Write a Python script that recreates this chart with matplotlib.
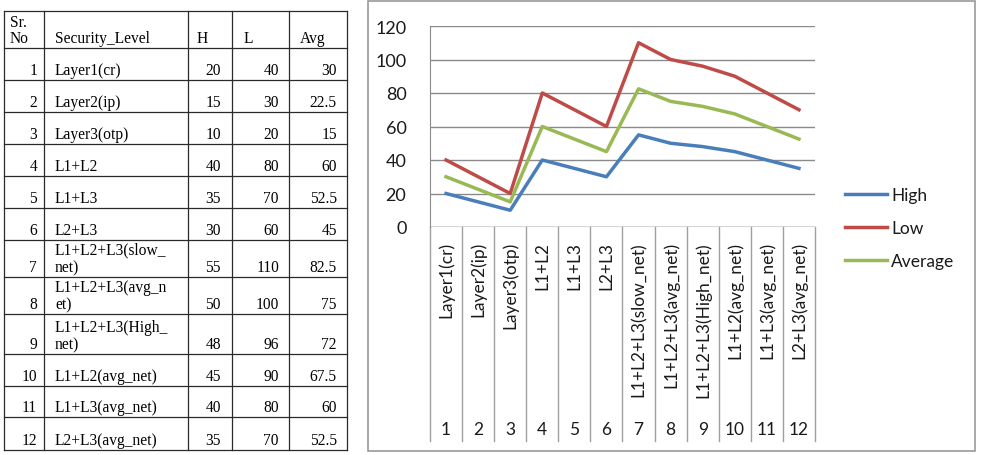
import matplotlib
matplotlib.use("Agg")
import matplotlib.pyplot as plt
import matplotlib.transforms as mtransforms

# ---------------- data ----------------
sr_no = [1, 2, 3, 4, 5, 6, 7, 8, 9, 10, 11, 12]
table_levels = ["Layer1(cr)", "Layer2(ip)", "Layer3(otp)", "L1+L2", "L1+L3", "L2+L3",
                "L1+L2+L3(slow_\nnet)", "L1+L2+L3(avg_n\net)", "L1+L2+L3(High_\nnet)",
                "L1+L2(avg_net)", "L1+L3(avg_net)", "L2+L3(avg_net)"]
categories = ["Layer1(cr)", "Layer2(ip)", "Layer3(otp)", "L1+L2", "L1+L3", "L2+L3",
              "L1+L2+L3(slow_net)", "L1+L2+L3(avg_net)", "L1+L2+L3(High_net)",
              "L1+L2(avg_net)", "L1+L3(avg_net)", "L2+L3(avg_net)"]
high = [20, 15, 10, 40, 35, 30, 55, 50, 48, 45, 40, 35]
low = [40, 30, 20, 80, 70, 60, 110, 100, 96, 90, 80, 70]
avg = [30, 22.5, 15, 60, 52.5, 45, 82.5, 75, 72, 67.5, 60, 52.5]
avg_text = ["30", "22.5", "15", "60", "52.5", "45", "82.5", "75", "72", "67.5", "60", "52.5"]
header = ["Sr.\nNo", "Security_Level", "H", "L", "Avg"]
series_names = ["High", "Low", "Average"]
y_ticks = [0, 20, 40, 60, 80, 100, 120]

W, H = 983, 456
fig = plt.figure(figsize=(W / 100, H / 100), dpi=100)

# background axes in pixel coordinates
bg = fig.add_axes([0, 0, 1, 1])
bg.set_xlim(0, W)
bg.set_ylim(H, 0)
bg.axis("off")

# ---------------- table ----------------
serif = "Liberation Serif"
tfs = 11.2
col_x = [4, 44, 188, 232, 289, 347]
row_y = [12, 49, 81, 113, 145, 177, 209, 241, 278, 315, 355, 387, 418, 451]
lc = "#2a2a2a"
for x in col_x:
    bg.plot([x, x], [row_y[0], row_y[-1]], color=lc, lw=0.9)
for y in row_y:
    bg.plot([col_x[0], col_x[-1]], [y, y], color=lc, lw=0.9)

hb = row_y[1] - 2
bg.text(10, hb, header[0], family=serif, fontsize=tfs, va="bottom", ha="left", linespacing=1.0)
bg.text(55, hb, header[1], family=serif, fontsize=tfs, va="bottom", ha="left")
bg.text(197, hb, header[2], family=serif, fontsize=tfs, va="bottom", ha="left")
bg.text(244, hb, header[3], family=serif, fontsize=tfs, va="bottom", ha="left")
bg.text(300, hb, header[4], family=serif, fontsize=tfs, va="bottom", ha="left")

for i in range(12):
    yb = row_y[i + 2] - 2
    bg.text(37, yb, str(sr_no[i]), family=serif, fontsize=tfs, va="bottom", ha="right")
    bg.text(55, yb, table_levels[i], family=serif, fontsize=tfs, va="bottom", ha="left",
            linespacing=1.1)
    bg.text(221, yb, str(high[i]), family=serif, fontsize=tfs, va="bottom", ha="right")
    bg.text(279, yb, str(low[i]), family=serif, fontsize=tfs, va="bottom", ha="right")
    bg.text(337, yb, avg_text[i], family=serif, fontsize=tfs, va="bottom", ha="right")

# ---------------- chart ----------------
bg.add_patch(plt.Rectangle((368, 2), 975 - 368, 452 - 2, fill=False, ec="#9a9a9a", lw=1.2))

px_l, px_r, px_t, px_b = 430, 815, 27, 228
ax = fig.add_axes([px_l / W, 1 - px_b / H, (px_r - px_l) / W, (px_b - px_t) / H])
x = list(range(1, 13))
colors = ["#4A7EBB", "#BE4B48", "#98B954"]
lines = []
for vals, c, n in zip([high, low, avg], colors, series_names):
    ln, = ax.plot(x, vals, color=c, lw=2.5, label=n, solid_joinstyle="round")
    lines.append(ln)
ax.set_xlim(0.5, 12.5)
ax.set_ylim(0, 120)
ax.set_yticks(y_ticks)
ax.set_xticks([])
for s in ["top", "right", "bottom"]:
    ax.spines[s].set_visible(False)
ax.spines["left"].set_color("#8a8a8a")
ax.yaxis.grid(True, color="#8a8a8a", lw=1.0)
ax.set_axisbelow(True)
ax.tick_params(axis="y", length=0, pad=17, labelsize=13, labelcolor="#1a1a1a")
for lab in ax.get_yticklabels():
    lab.set_family("Lato")
ax.axhline(0, color="#8a8a8a", lw=1.0)

blend = mtransforms.blended_transform_factory(ax.transData, bg.transData)
for b in [i + 0.5 for i in range(13)]:
    ax.plot([b, b], [px_b, 442], color="#a0a0a0", lw=1.0, transform=blend, clip_on=False)
for i, cat in enumerate(categories):
    ax.text(i + 1, 242, cat, rotation=90, va="top", ha="center", family="Lato",
            fontsize=12.5, color="#1a1a1a", transform=blend)
    ax.text(i + 1, 430, str(sr_no[i]), va="center", ha="center", family="Lato",
            fontsize=12.5, color="#1a1a1a", transform=blend)

leg = ax.legend(handles=lines, loc="center left", bbox_to_anchor=(845 / W, 1 - 229 / H),
                bbox_transform=fig.transFigure, frameon=False, borderpad=0, borderaxespad=0,
                handlelength=2.4, handletextpad=0.25, labelspacing=1.0,
                prop={"family": "Lato", "size": 12.5})
for t in leg.get_texts():
    t.set_color("#1a1a1a")

fig.savefig("out.png", dpi=100)
